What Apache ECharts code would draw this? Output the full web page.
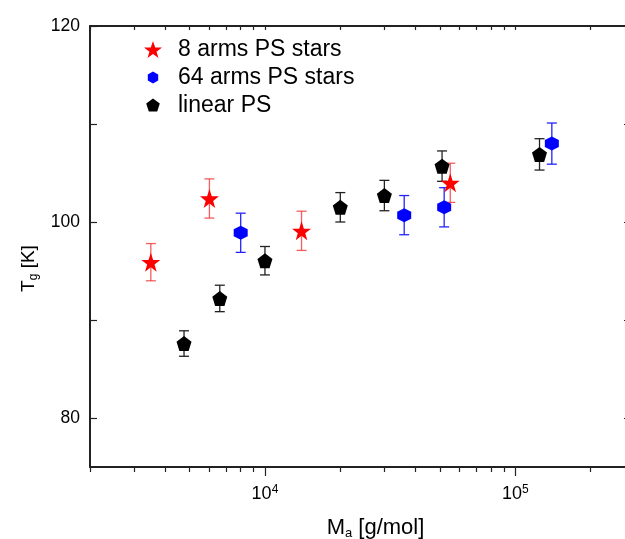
<!DOCTYPE html>
<html>
<head>
<meta charset="utf-8">
<script src="https://cdn.jsdelivr.net/npm/echarts@6/dist/echarts.min.js"></script>
<style>
  html, body { margin: 0; padding: 0; background: #fff; }
  #main { width: 625px; height: 539px; }
</style>
</head>
<body>
<div id="main"></div>
<script>
// --- data ---
var star8M    = [3500, 6000, 14000, 55000];
var star8Tg   = [95.9, 102.4, 99.1, 104.0];
var star8Err  = [1.9, 2.0, 2.0, 2.0];

var star64M   = [8000, 36000, 52000, 140000];
var star64Tg  = [98.9, 100.7, 101.5, 108.0];
var star64Err = [2.0, 2.0, 2.0, 2.1];

var linM      = [4750, 6600, 10000, 20000, 30000, 51000, 125000];
var linTg     = [87.6, 92.2, 96.05, 101.5, 102.7, 105.7, 106.9];
var linErr    = [1.3, 1.35, 1.45, 1.5, 1.55, 1.55, 1.6];

var xMinorTicks = [2000, 3000, 4000, 5000, 6000, 7000, 8000, 9000,
  20000, 30000, 40000, 50000, 60000, 70000, 80000, 90000, 200000];
var xMajorTicks = [10000, 100000];
var yTicks  = [80, 90, 100, 110, 120];
var yLabels = [80, 100, 120];

var FONT = 'Liberation Sans, Arial, sans-serif';
var STAR = 'path://M50,0 L61.8,35.1 L98.1,35.1 L68.8,56.7 L79.4,90.5 L50,69.1 L20.6,90.5 L31.2,56.7 L1.9,35.1 L38.2,35.1 Z';
var HEX  = 'path://M50,0 L93.3,25 L93.3,75 L50,100 L6.7,75 L6.7,25 Z';
var PENT = 'path://M50,0 L97.6,34.5 L79.4,90.5 L20.6,90.5 L2.4,34.5 Z';
// legend icons: same shapes, padded so they come out smaller in the 18px box
var HEX_L  = 'path://M-25,-25 M125,125 M50,0 L93.3,25 L93.3,75 L50,100 L6.7,75 L6.7,25 Z';
var PENT_L = 'path://M-12,-14 M112,112 M50,0 L97.6,34.5 L79.4,90.5 L20.6,90.5 L2.4,34.5 Z';

function pts(xs, ys) {
  return xs.map(function (x, i) { return [x, ys[i]]; });
}
function bars(xs, ys, es) {
  return xs.map(function (x, i) { return [x, ys[i] - es[i], ys[i] + es[i]]; });
}

// error bar with caps
function errRender(color) {
  return function (params, api) {
    var lo = api.coord([api.value(0), api.value(1)]);
    var hi = api.coord([api.value(0), api.value(2)]);
    var w = 5;
    var st = { stroke: color, lineWidth: 1.3 };
    return {
      type: 'group',
      children: [
        { type: 'line', shape: { x1: lo[0], y1: lo[1], x2: hi[0], y2: hi[1] }, style: st },
        { type: 'line', shape: { x1: lo[0] - w, y1: lo[1], x2: lo[0] + w, y2: lo[1] }, style: st },
        { type: 'line', shape: { x1: hi[0] - w, y1: hi[1], x2: hi[0] + w, y2: hi[1] }, style: st }
      ]
    };
  };
}

function errSeries(xs, ys, es, color) {
  return {
    type: 'custom',
    renderItem: errRender(color),
    data: bars(xs, ys, es),
    encode: { x: 0, y: [1, 2] },
    silent: true,
    z: 1
  };
}

var axisLine = { show: true, lineStyle: { color: '#222', width: 2 } };
var tickStyle = { color: '#222', width: 1.2 };

var chart = echarts.init(document.getElementById('main'));
chart.setOption({
  animation: false,
  backgroundColor: '#fff',
  textStyle: { fontFamily: FONT },
  grid: { left: 90, top: 26, right: -6, bottom: 72, outerBoundsMode: 'none', containLabel: false },
  legend: {
    orient: 'vertical',
    left: 139,
    top: 33,
    itemWidth: 18,
    itemHeight: 18,
    itemGap: 5,
    textStyle: { fontSize: 23, lineHeight: 18, color: '#000', fontFamily: FONT, padding: [0, 0, 0, 11] },
    data: [
      { name: '8 arms PS stars', icon: STAR },
      { name: '64 arms PS stars', icon: HEX_L },
      { name: 'linear PS', icon: PENT_L }
    ]
  },
  xAxis: [
    {
      type: 'log', logBase: 10, min: 2000, max: 290000, position: 'bottom',
      axisLine: axisLine,
      splitLine: { show: false },
      axisTick: { show: true, inside: false, length: 5, lineStyle: tickStyle, customValues: xMinorTicks },
      axisLabel: {
        customValues: xMajorTicks, margin: 17, color: '#000',
        formatter: function (v) { return '{b|10}{s|' + Math.round(Math.log10(v)) + '}'; },
        rich: {
          b: { fontSize: 18, fontFamily: FONT, color: '#000' },
          s: { fontSize: 12, fontFamily: FONT, color: '#000', verticalAlign: 'top', padding: [0, 0, 9, 0] }
        }
      },
      name: '{b|M}{s|a}{b| [g/mol]}',
      nameLocation: 'middle',
      nameGap: 48,
      nameTextStyle: {
        padding: [0, 0, 0, 30],
        rich: {
          b: { fontSize: 22, fontFamily: FONT, color: '#000' },
          s: { fontSize: 13, fontFamily: FONT, color: '#000', verticalAlign: 'bottom', padding: [12, 0, 0, 0] }
        }
      }
    },
    {
      // longer major ticks on the bottom
      type: 'log', logBase: 10, min: 2000, max: 290000, position: 'bottom',
      axisLine: { show: false },
      splitLine: { show: false },
      axisTick: { show: true, inside: false, length: 9, lineStyle: tickStyle, customValues: xMajorTicks },
      axisLabel: { show: false }
    },
    {
      type: 'log', logBase: 10, min: 2000, max: 290000, position: 'top',
      axisLine: axisLine,
      splitLine: { show: false },
      axisTick: { show: true, inside: true, length: 4, lineStyle: tickStyle, customValues: xMinorTicks.concat(xMajorTicks) },
      axisLabel: { show: false }
    }
  ],
  yAxis: [
    {
      type: 'value', min: 75, max: 120, position: 'left',
      axisLine: axisLine,
      splitLine: { show: false },
      axisTick: { show: true, inside: true, length: 7, lineStyle: tickStyle, customValues: yTicks },
      axisLabel: { customValues: yLabels, margin: 10, fontSize: 17.5, color: '#000', fontFamily: FONT },
      name: '{b|T}{s|g}{b| [K]}',
      nameLocation: 'middle',
      nameGap: 48,
      nameRotate: 90,
      nameTextStyle: {
        padding: [0, 44, 0, 0],
        rich: {
          b: { fontSize: 19, fontFamily: FONT, color: '#000' },
          s: { fontSize: 12, fontFamily: FONT, color: '#000', verticalAlign: 'bottom', padding: [10, 0, 0, 0] }
        }
      }
    },
    {
      type: 'value', min: 75, max: 120, position: 'right',
      axisLine: axisLine,
      splitLine: { show: false },
      axisTick: { show: true, inside: true, length: 7, lineStyle: tickStyle, customValues: yTicks },
      axisLabel: { show: false }
    }
  ],
  series: [
    errSeries(star8M, star8Tg, star8Err, 'rgba(240,40,40,0.75)'),
    errSeries(star64M, star64Tg, star64Err, '#2323ff'),
    errSeries(linM, linTg, linErr, '#222'),
    {
      name: '8 arms PS stars', type: 'scatter', symbol: STAR, symbolSize: 19,
      itemStyle: { color: '#ff0000', opacity: 1 }, data: pts(star8M, star8Tg), z: 3
    },
    {
      name: '64 arms PS stars', type: 'scatter', symbol: HEX, symbolSize: 14,
      itemStyle: { color: '#0000ff', opacity: 1 }, data: pts(star64M, star64Tg), z: 3
    },
    {
      name: 'linear PS', type: 'scatter', symbol: PENT, symbolSize: 15,
      itemStyle: { color: '#000', opacity: 1 }, data: pts(linM, linTg), z: 3
    }
  ]
});
</script>
</body>
</html>
